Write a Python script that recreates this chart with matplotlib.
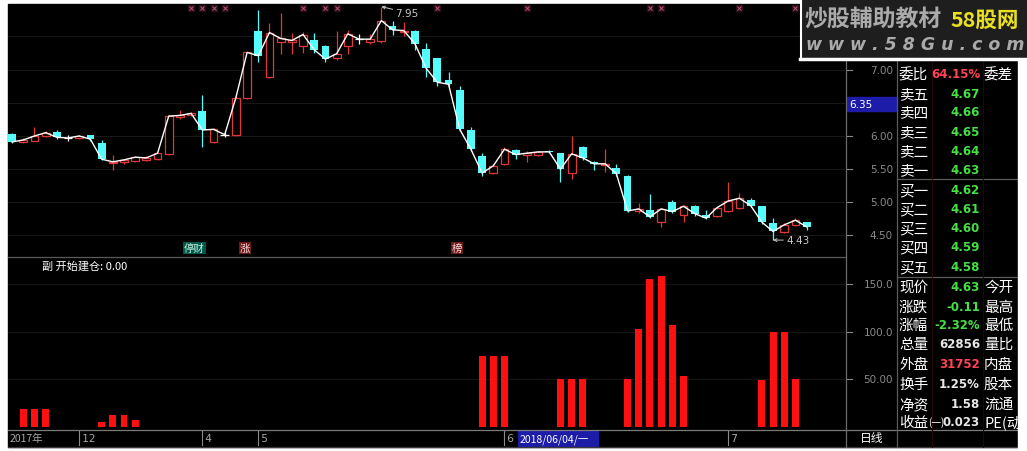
import matplotlib
matplotlib.use('Agg')
import matplotlib.pyplot as plt
import matplotlib.transforms as mtransforms
from matplotlib.patches import Rectangle

plt.rcParams['font.family'] = ['Noto Sans CJK SC', 'DejaVu Sans']

# ---------------- data ----------------
opens = [6.03, 5.91, 5.93, 6.00, 6.06, 5.97, 5.97, 6.01, 5.90, 5.59,
         5.60, 5.62, 5.64, 5.66, 5.73, 6.29, 6.31, 6.38, 5.91, 6.02,
         6.02, 6.58, 7.59, 6.89, 7.41, 7.41, 7.36, 7.44, 7.36, 7.17,
         7.36, 7.46, 7.42, 7.43, 7.66, 7.57, 7.59, 7.31, 7.17, 6.84,
         6.70, 6.09, 5.70, 5.44, 5.58, 5.79, 5.71, 5.72, 5.78, 5.74,
         5.44, 5.83, 5.61, 5.56, 5.51, 5.40, 4.87, 4.89, 4.70, 5.00,
         4.81, 4.95, 4.81, 4.79, 4.87, 4.91, 5.04, 4.94, 4.69, 4.55,
         4.66, 4.70]
highs = [6.04, 5.97, 6.13, 6.07, 6.09, 6.01, 6.01, 6.02, 5.94, 5.72,
         5.66, 5.70, 5.70, 5.75, 6.31, 6.39, 6.36, 6.62, 6.12, 6.06,
         6.60, 7.27, 7.90, 7.70, 7.86, 7.56, 7.57, 7.56, 7.37, 7.59,
         7.60, 7.54, 7.54, 7.95, 7.74, 7.72, 7.60, 7.40, 7.18, 6.97,
         6.76, 6.13, 5.74, 5.57, 5.84, 5.80, 5.78, 5.77, 5.79, 5.75,
         6.00, 5.85, 5.62, 5.80, 5.58, 5.41, 4.99, 5.13, 4.91, 5.04,
         4.96, 4.96, 4.88, 4.93, 5.30, 5.14, 5.06, 4.95, 4.77, 4.69,
         4.76, 4.71]
lows = [5.90, 5.89, 5.92, 5.99, 5.95, 5.93, 5.96, 5.93, 5.64, 5.48,
        5.58, 5.60, 5.62, 5.64, 5.72, 6.25, 6.30, 5.83, 5.90, 5.98,
        6.00, 6.56, 7.12, 6.88, 7.24, 7.23, 7.25, 7.25, 7.12, 7.15,
        7.24, 7.38, 7.38, 7.40, 7.52, 7.50, 7.30, 6.89, 6.76, 6.75,
        6.08, 5.78, 5.40, 5.42, 5.56, 5.66, 5.60, 5.70, 5.74, 5.30,
        5.35, 5.64, 5.48, 5.46, 5.40, 4.86, 4.84, 4.76, 4.62, 4.84,
        4.70, 4.80, 4.75, 4.78, 4.85, 4.90, 4.93, 4.68, 4.43, 4.53,
        4.64, 4.58]
closes = [5.91, 5.94, 6.00, 6.05, 5.98, 5.97, 6.00, 5.95, 5.65, 5.61,
          5.64, 5.68, 5.67, 5.74, 6.30, 6.31, 6.34, 6.09, 6.10, 6.02,
          6.58, 7.26, 7.21, 7.56, 7.47, 7.44, 7.53, 7.30, 7.16, 7.24,
          7.54, 7.46, 7.46, 7.74, 7.60, 7.59, 7.39, 7.02, 6.81, 6.78,
          6.10, 5.80, 5.44, 5.55, 5.80, 5.72, 5.74, 5.76, 5.76, 5.50,
          5.73, 5.67, 5.58, 5.58, 5.43, 4.87, 4.90, 4.78, 4.90, 4.86,
          4.94, 4.83, 4.76, 4.92, 5.02, 5.06, 4.95, 4.70, 4.56, 4.66,
          4.73, 4.63]
signal = [0, 18, 18, 18, 0, 0, 0, 0, 4.5, 12.5,
          12.5, 7, 0, 0, 0, 0, 0, 0, 0, 0,
          0, 0, 0, 0, 0, 0, 0, 0, 0, 0,
          0, 0, 0, 0, 0, 0, 0, 0, 0, 0,
          0, 0, 74, 74, 74, 0, 0, 0, 0, 50,
          50, 50, 0, 0, 0, 50, 103, 155, 158, 107,
          53, 0, 0, 0, 0, 0, 0, 49, 100, 100,
          50, 0]
marker_idx = [16, 17, 18, 19, 26, 28, 29, 38, 46, 57, 58, 65, 70]
price_ticks = [4.5, 5.0, 5.5, 6.0, 7.0]
price_labels = ['4.50', '5.00', '5.50', '6.00', '7.00']
sig_ticks = [50, 100, 150]
sig_labels = ['50.00', '100.0', '150.0']
date_idx = [6, 17, 22, 44, 64]
date_labels = ['12', '4', '5', '6', '7']

quote_names = ['委比', '卖五', '卖四', '卖三', '卖二', '卖一', '买一', '买二', '买三', '买四',
               '买五', '现价', '涨跌', '涨幅', '总量', '外盘', '换手', '净资', '收益']
quote_values = ['64.15%', '4.67', '4.66', '4.65', '4.64', '4.63', '4.62', '4.61', '4.60', '4.59',
                '4.58', '4.63', '-0.11', '-2.32%', '62856', '31752', '1.25%', '1.58', '0.023']
quote_right = ['委差', '', '', '', '', '', '', '', '', '',
               '', '今开', '最高', '最低', '量比', '内盘', '股本', '流通', 'PE(动']
RED_V, GRN_V, WHT_V = '#ff4455', '#44e044', '#e8e8e8'
quote_colors = [RED_V] + [GRN_V] * 13 + [WHT_V, RED_V, WHT_V, WHT_V, WHT_V]

# ---------------- layout ----------------
W, H = 1027, 452
fig = plt.figure(figsize=(W / 100, H / 100), dpi=100, facecolor='white')


def frac(x0, y0, x1, y1):
    return [x0 / W, 1 - y1 / H, (x1 - x0) / W, (y1 - y0) / H]


bg = fig.add_axes([0, 0, 1, 1], zorder=0)
bg.set_xlim(0, W)
bg.set_ylim(H, 0)
bg.axis('off')
bg.add_patch(Rectangle((8, 5), 1010, 443, color='black'))

XLIM = (-0.366, 74.43)
RED = '#e03838'
CYAN = '#54fcfc'

# ---------------- main price panel ----------------
ax = fig.add_axes(frac(8, 5, 845, 257), facecolor='black', zorder=1)
ax.set_xlim(*XLIM)
ax.set_ylim(4.19, 7.99)
for s in ax.spines.values():
    s.set_visible(False)
ax.set_xticks([])
ax.set_yticks([])
for p in [4.5, 5.0, 5.5, 6.0, 6.5, 7.0, 7.5]:
    ax.axhline(p, color='#171717', lw=0.8, zorder=0)

n = len(opens)
xs = list(range(n))
for i in xs:
    o, h, l, c = opens[i], highs[i], lows[i], closes[i]
    if c > o:
        ax.vlines(i, l, o, color=RED, lw=0.9, zorder=2)
        ax.vlines(i, c, h, color=RED, lw=0.9, zorder=2)
        ax.bar(i, c - o, bottom=o, width=0.7, facecolor='black', edgecolor=RED, lw=0.9, zorder=2)
    elif c < o:
        ax.vlines(i, l, h, color=CYAN, lw=0.9, zorder=2)
        ax.bar(i, o - c, bottom=c, width=0.7, color=CYAN, lw=0, zorder=2)
    else:
        ax.vlines(i, l, h, color='white', lw=0.9, zorder=2)
        ax.hlines(c, i - 0.38, i + 0.38, color='white', lw=0.9, zorder=2)

ax.plot(xs, closes, color='white', lw=1.0, zorder=3)

# top markers
top_t = mtransforms.blended_transform_factory(ax.transData, ax.transAxes)
ax.plot(marker_idx, [0.986] * len(marker_idx), 's', ms=4.5, color='#2c0e16',
        transform=top_t, zorder=4, clip_on=False)
ax.plot(marker_idx, [0.986] * len(marker_idx), 'x', ms=2.6, mew=0.7, color='#b85878',
        transform=top_t, zorder=5, clip_on=False)

# max / min labels
imax = highs.index(max(highs))
imin = lows.index(min(lows))
ax.annotate(f'{highs[imax]:.2f}', xy=(imax, highs[imax]), xytext=(14, -6),
            textcoords='offset pixels', color='#c8c8c8', fontsize=7.5,
            family='DejaVu Sans', ha='left', va='center',
            arrowprops=dict(arrowstyle='->', color='#c8c8c8', lw=0.7,
                            shrinkA=0, shrinkB=0, mutation_scale=5), zorder=6)
ax.annotate(f'{lows[imin]:.2f}', xy=(imin, lows[imin]), xytext=(13, 0),
            textcoords='offset pixels', color='#c8c8c8', fontsize=7.5,
            family='DejaVu Sans', ha='left', va='center',
            arrowprops=dict(arrowstyle='->', color='#c8c8c8', lw=0.7,
                            shrinkA=0, shrinkB=0, mutation_scale=5), zorder=6)

# ---------------- lower indicator panel ----------------
ax2 = fig.add_axes(frac(8, 258, 845, 430), facecolor='black', zorder=1)
ax2.set_xlim(*XLIM)
ax2.set_ylim(-2.6, 178.4)
for s in ax2.spines.values():
    s.set_visible(False)
ax2.set_xticks([])
ax2.set_yticks([])
for v in sig_ticks:
    ax2.axhline(v, color='#141414', lw=0.8, zorder=0)
ax2.bar(xs, signal, width=0.62, color='#ff1010', lw=0, zorder=2)

# ---------------- overlay (layout / text) ----------------
ov = fig.add_axes([0, 0, 1, 1], zorder=10)
ov.set_xlim(0, W)
ov.set_ylim(H, 0)
ov.axis('off')
ov.patch.set_alpha(0)

GRID = '#5a5a5a'
ov.plot([8, 846], [257.5, 257.5], color=GRID, lw=0.9)
ov.plot([8, 1017], [430.5, 430.5], color='#7a7a7a', lw=0.9)
ov.plot([8, 1017], [447.5, 447.5], color='#3a3a3a', lw=0.9)
ov.plot([846, 846], [5, 448], color='#6a6a6a', lw=0.9)
ov.plot([897, 897], [60, 448], color=GRID, lw=0.9)
ov.plot([897, 1017], [180, 180], color=GRID, lw=0.9)
ov.plot([897, 1017], [278, 278], color=GRID, lw=0.9)
for xv in [932, 983]:
    ov.plot([xv, xv], [62, 448], color='#220606', lw=0.8)

# right price axis labels
pt = mtransforms.blended_transform_factory(ov.transData, ax.transData)
for p, lab in zip(price_ticks, price_labels):
    ov.text(893, p, lab, transform=pt, color='#8a8a8a', fontsize=7.5,
            family='DejaVu Sans', ha='right', va='center')
    ov.plot([847, 852], [p, p], transform=pt, color='#8a8a8a', lw=0.8)
st = mtransforms.blended_transform_factory(ov.transData, ax2.transData)
for v, lab in zip(sig_ticks, sig_labels):
    ov.text(893, v, lab, transform=st, color='#8a8a8a', fontsize=7.5,
            family='DejaVu Sans', ha='right', va='center')
    ov.plot([847, 852], [v, v], transform=st, color='#8a8a8a', lw=0.8)

# cursor price box
ov.add_patch(Rectangle((847, 98), 50, 14, color='#1c1ca8'))
ov.text(849, 105, '6.35', color='white', fontsize=7.5, family='DejaVu Sans',
        ha='left', va='center')

# indicator title
ov.text(42, 266, '副 开始建仓: 0.00', color='white', fontsize=8, ha='left', va='center')

# event tags at bottom of price panel
ov.text(194.5, 249, '停财', color='#c8f0e0', fontsize=7.5, ha='center', va='center',
        bbox=dict(boxstyle='square,pad=0.1', fc='#005a4c', ec='none'))
ov.text(245, 249, '涨', color='#ffd8d8', fontsize=7.5, ha='center', va='center',
        bbox=dict(boxstyle='square,pad=0.1', fc='#6a1c1c', ec='none'))
ov.text(457, 249, '榜', color='#ffd8d8', fontsize=7.5, ha='center', va='center',
        bbox=dict(boxstyle='square,pad=0.1', fc='#6a1c1c', ec='none'))

# date axis
dt = mtransforms.blended_transform_factory(ax2.transData, ov.transData)
ov.text(10, 439, '2017年', color='#a8a8a8', fontsize=7.5, ha='left', va='center')
for di, lab in zip(date_idx, date_labels):
    ov.plot([di, di], [432, 446], transform=dt, color='#8a8a8a', lw=0.8)
    ov.text(di, 439, ' ' + lab, transform=dt, color='#a8a8a8', fontsize=7.5,
            family='DejaVu Sans', ha='left', va='center')
ov.add_patch(Rectangle((518, 432), 80, 15, color='#1c1ca8'))
ov.text(520, 439.5, '2018/06/04/一', color='white', fontsize=7.5, ha='left', va='center')
ov.text(872, 439, '日线', color='white', fontsize=8.5, ha='center', va='center')

# quote panel
row_y = [75, 95, 113, 133, 152, 171, 191, 210, 229, 248,
         268, 288, 308, 326, 345, 365, 385, 405, 423]
for y, nm, val, rn, col in zip(row_y, quote_names, quote_values, quote_right, quote_colors):
    ov.text(899, y, nm, color='white', fontsize=10.5, ha='left', va='center')
    ov.text(980, y, val, color=col, fontsize=8.5, fontweight='bold',
            family='DejaVu Sans', ha='right', va='center')
    if rn:
        ov.text(984, y, rn, color='white', fontsize=10.5, ha='left', va='center',
                clip_on=True)
ov.text(928, 423, '(一)', color='white', fontsize=7, ha='left', va='center')
ov.add_patch(Rectangle((1018, 60), 9, 392, color='white', zorder=5))

# watermark box
ov.add_patch(Rectangle((800, 0), 227, 59, facecolor='#1e1e1e', edgecolor='none', zorder=6))
ov.plot([800, 1027], [59.5, 59.5], color='white', lw=2.5, zorder=7)
ov.plot([800.5, 800.5], [0, 60], color='white', lw=1.5, zorder=7)
ov.text(804, 20, '炒股輔助教材', color='#aaaaaa', fontsize=16.5, fontweight='bold',
        ha='left', va='center', zorder=8)
ov.text(950, 20, '58股网', color='#e8e020', fontsize=15.5, fontweight='bold',
        ha='left', va='center', zorder=8)
ov.text(806, 45, 'w w w . 5 8 G u . c o m', color='#aaaaaa', fontsize=12.5,
        fontweight='bold', style='italic', family='DejaVu Sans',
        ha='left', va='center', zorder=8)

fig.savefig('out.png', dpi=100, facecolor='white')
